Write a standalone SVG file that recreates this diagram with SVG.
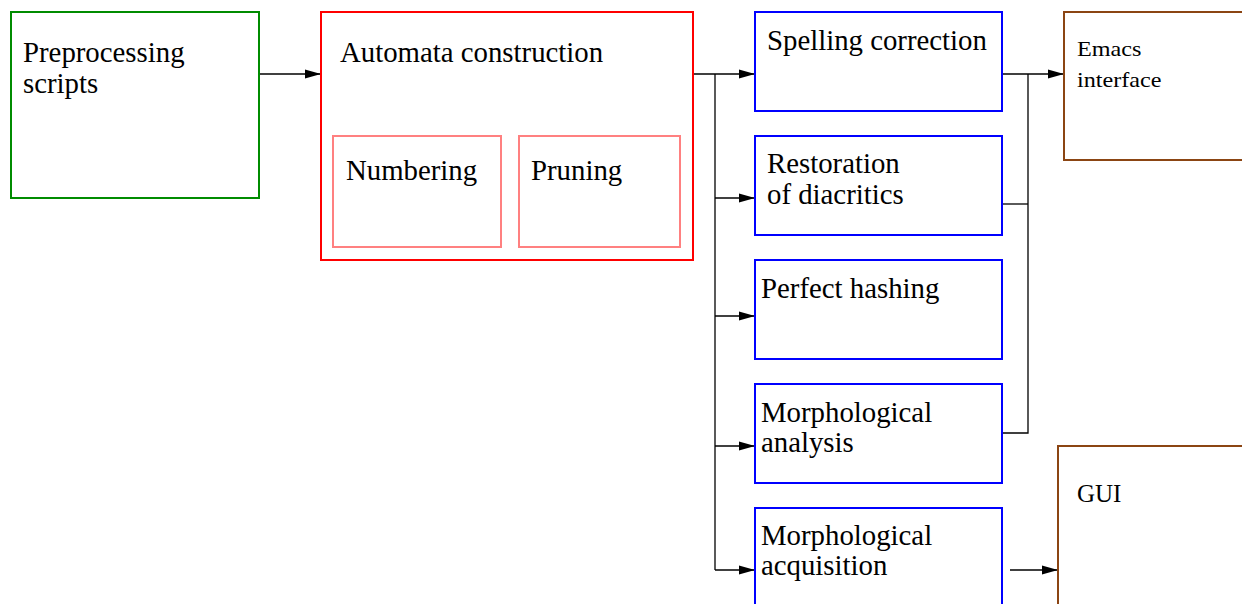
<svg xmlns="http://www.w3.org/2000/svg" width="1242" height="604" viewBox="0 0 1242 604">
<defs>
<marker id="ah" markerWidth="16" markerHeight="10" refX="16" refY="5" orient="auto" markerUnits="userSpaceOnUse">
<path d="M0,0.5 L16,5 L0,9.5 z" fill="#000"/>
</marker>
<style>
.box{fill:none;stroke-width:2}
.t{font-family:"Liberation Serif","Times New Roman",serif;font-size:28.8px;fill:#000}
.s{font-family:"Liberation Serif","Times New Roman",serif;font-size:20.5px;fill:#000}
.g{font-family:"Liberation Serif","Times New Roman",serif;font-size:25px;fill:#000}
.c{fill:none;stroke:#000;stroke-width:1.3}
</style>
</defs>
<rect width="1242" height="604" fill="#fff"/>
<g id="connectors">
<path class="c" d="M259,74 H321" marker-end="url(#ah)"/>
<path class="c" d="M693,74 H755" marker-end="url(#ah)"/>
<path class="c" d="M715,74 V570"/>
<path class="c" d="M715,198 H755" marker-end="url(#ah)"/>
<path class="c" d="M715,316 H755" marker-end="url(#ah)"/>
<path class="c" d="M715,446 H755" marker-end="url(#ah)"/>
<path class="c" d="M715,570 H755" marker-end="url(#ah)"/>
<path class="c" d="M1002,74 H1064" marker-end="url(#ah)"/>
<path class="c" d="M1028,74 V433 H1002"/>
<path class="c" d="M1002,204 H1028"/>
<path class="c" d="M1010,570 H1058" marker-end="url(#ah)"/>
</g>
<g id="preprocessing">
<rect class="box" x="11" y="12" width="248" height="186" stroke="#008c00"/>
<text class="t" x="23" y="62">Preprocessing</text>
<text class="t" x="23" y="93">scripts</text>
</g>
<g id="automata">
<rect class="box" x="321" y="12" width="372" height="248" stroke="#ff0000"/>
<text class="t" x="340" y="62">Automata construction</text>
</g>
<g id="numbering">
<rect class="box" x="333" y="136" width="168" height="111" stroke="#ff8080"/>
<text class="t" x="346" y="180">Numbering</text>
</g>
<g id="pruning">
<rect class="box" x="519" y="136" width="161" height="111" stroke="#ff8080"/>
<text class="t" x="531" y="180">Pruning</text>
</g>
<g id="spelling">
<rect class="box" x="755" y="12" width="247" height="99" stroke="#0000ff"/>
<text class="t" x="767" y="50">Spelling correction</text>
</g>
<g id="restoration">
<rect class="box" x="755" y="136" width="247" height="99" stroke="#0000ff"/>
<text class="t" x="767" y="173">Restoration</text>
<text class="t" x="767" y="204">of diacritics</text>
</g>
<g id="hashing">
<rect class="box" x="755" y="260" width="247" height="99" stroke="#0000ff"/>
<text class="t" x="761" y="298">Perfect hashing</text>
</g>
<g id="analysis">
<rect class="box" x="755" y="384" width="247" height="99" stroke="#0000ff"/>
<text class="t" x="761" y="422">Morphological</text>
<text class="t" x="761" y="452">analysis</text>
</g>
<g id="acquisition">
<rect class="box" x="755" y="508" width="247" height="110" stroke="#0000ff"/>
<text class="t" x="761" y="545">Morphological</text>
<text class="t" x="761" y="575">acquisition</text>
</g>
<g id="emacs">
<rect class="box" x="1064" y="12" width="200" height="148" stroke="#8b4513"/>
<text class="s" transform="translate(1077,56) scale(1.18,1)">Emacs</text>
<text class="s" transform="translate(1077,87) scale(1.18,1)">interface</text>
</g>
<g id="gui">
<rect class="box" x="1058" y="446" width="200" height="180" stroke="#8b4513"/>
<text class="g" x="1077" y="502">GUI</text>
</g>
</svg>
